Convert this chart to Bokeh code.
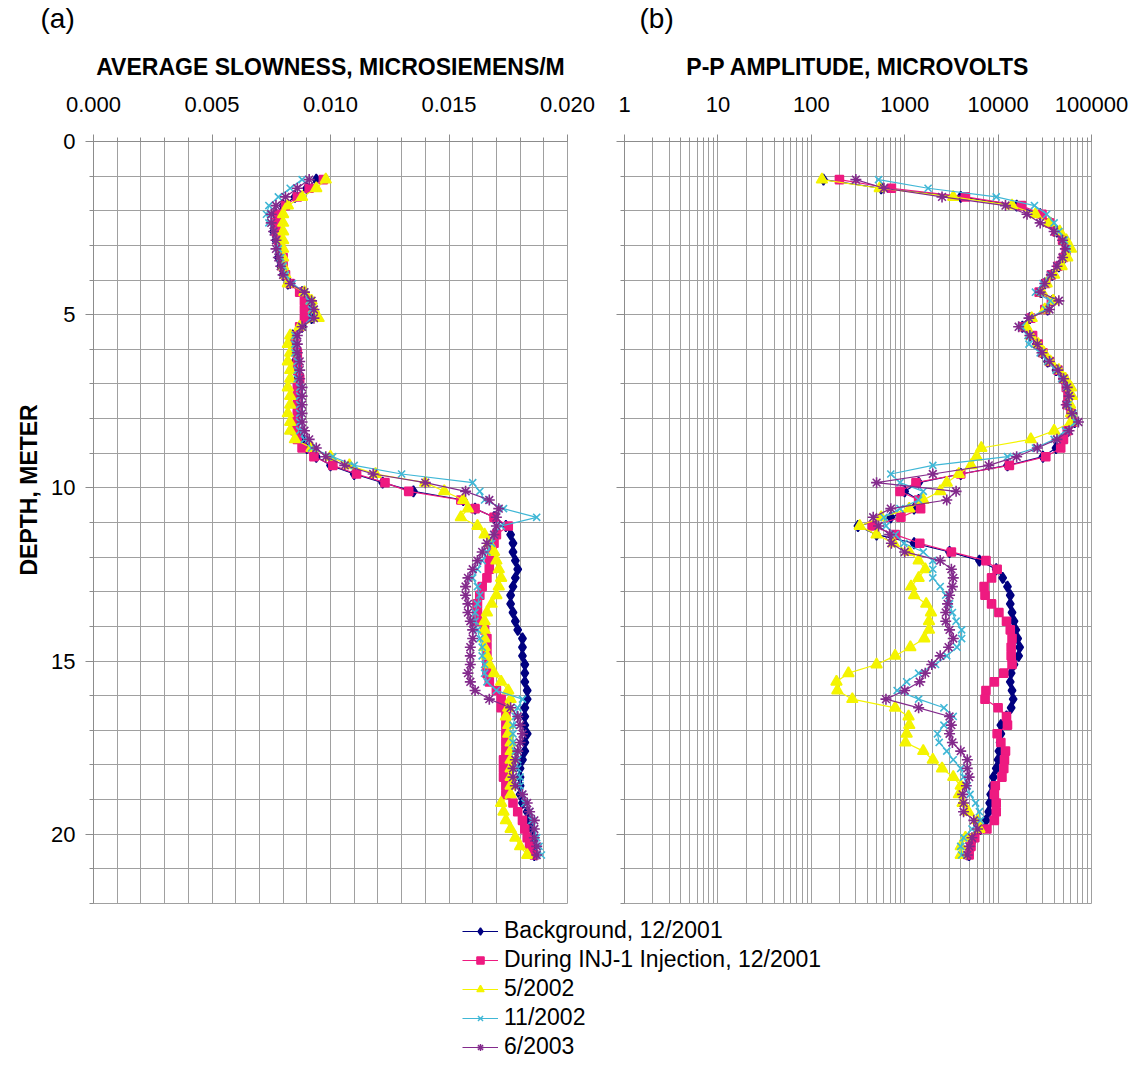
from bokeh.plotting import figure
from bokeh.models import (Range1d, FixedTicker, NumeralTickFormatter, CustomJSTickFormatter,
                          Legend, LegendItem, Label, Title)
from bokeh.layouts import column, row
from bokeh.embed import file_html
from bokeh.resources import INLINE

FONT = "Liberation Sans"
GRID = "#a0a0a0"
AXIS = "#8c8c8c"
TXT = "#000000"

# ---------------- data ----------------
depth = [
    1.10, 1.35, 1.60, 1.85, 2.10, 2.35, 2.60, 2.85, 3.10, 3.35,
    3.60, 3.85, 4.10, 4.35, 4.60, 4.85, 5.10, 5.35, 5.60, 5.85,
    6.10, 6.35, 6.60, 6.85, 7.10, 7.35, 7.60, 7.85, 8.10, 8.35,
    8.60, 8.85, 9.10, 9.35, 9.60, 9.85, 10.10, 10.35, 10.60, 10.85,
    11.10, 11.35, 11.60, 11.85, 12.10, 12.35, 12.60, 12.85, 13.10, 13.35,
    13.60, 13.85, 14.10, 14.35, 14.60, 14.85, 15.10, 15.35, 15.60, 15.85,
    16.10, 16.35, 16.60, 16.85, 17.10, 17.35, 17.60, 17.85, 18.10, 18.35,
    18.60, 18.85, 19.10, 19.35, 19.60, 19.85, 20.10, 20.35, 20.60,
]

series_names = [
    "Background, 12/2001",
    "During INJ-1 Injection, 12/2001",
    "5/2002",
    "11/2002",
    "6/2003",
]

slow_background = [
    0.0094, 0.0090, 0.0085, 0.0080, 0.0077, 0.0076, 0.0076, 0.0077, 0.0078, 0.0078,
    0.0079, 0.0080, 0.0082, 0.0088, 0.0091, 0.0091, 0.0092, 0.0088, 0.0084, 0.0084,
    0.0085, 0.0085, 0.0086, 0.0086, 0.0086, 0.0087, 0.0086, 0.0086, 0.0086, 0.0086,
    0.0088, 0.0090, 0.0094, 0.0100, 0.0110, 0.0122, 0.0135, 0.0156, 0.0161, 0.0169,
    0.0174, 0.0176, 0.0177, 0.0177, 0.0178, 0.0179, 0.0178, 0.0177, 0.0176, 0.0176,
    0.0177, 0.0178, 0.0179, 0.0181, 0.0181, 0.0181, 0.0182, 0.0182, 0.0182, 0.0183,
    0.0183, 0.0182, 0.0182, 0.0182, 0.0183, 0.0182, 0.0182, 0.0181, 0.0180, 0.0180,
    0.0180, 0.0180, 0.0181, 0.0183, 0.0184, 0.0185, 0.0186, 0.0186, 0.0186,
]
slow_injection = [
    0.0097, 0.0091, 0.0086, 0.0081, 0.0078, 0.0077, 0.0077, 0.0078, 0.0079, 0.0080,
    0.0080, 0.0081, 0.0083, 0.0087, 0.0089, 0.0089, 0.0089, 0.0087, 0.0085, 0.0085,
    0.0086, 0.0086, 0.0086, 0.0087, 0.0086, 0.0086, 0.0086, 0.0086, 0.0085, 0.0085,
    0.0086, 0.0088, 0.0093, 0.0101, 0.0111, 0.0123, 0.0133, 0.0155, 0.0161, 0.0169,
    0.0175, 0.0170, 0.0169, 0.0168, 0.0167, 0.0167, 0.0166, 0.0164, 0.0163, 0.0162,
    0.0162, 0.0162, 0.0165, 0.0166, 0.0166, 0.0166, 0.0166, 0.0166, 0.0167, 0.0170,
    0.0172, 0.0172, 0.0174, 0.0174, 0.0174, 0.0174, 0.0174, 0.0173, 0.0173, 0.0173,
    0.0174, 0.0174, 0.0177, 0.0179, 0.0181, 0.0182, 0.0183, 0.0184, 0.0186,
]
slow_2002_05 = [
    0.0098, 0.0094, 0.0088, 0.0082, 0.0080, 0.0080, 0.0080, 0.0080, 0.0080, 0.0080,
    0.0080, 0.0081, 0.0082, 0.0089, 0.0092, 0.0093, 0.0095, 0.0087, 0.0083, 0.0082,
    0.0083, 0.0082, 0.0083, 0.0083, 0.0082, 0.0083, 0.0083, 0.0082, 0.0083, 0.0083,
    0.0085, 0.0092, 0.0100, 0.0108, 0.0119, 0.0140, 0.0148, 0.0156, 0.0158, 0.0155,
    0.0162, 0.0165, 0.0167, 0.0169, 0.0170, 0.0171, 0.0172, 0.0171, 0.0170, 0.0168,
    0.0166, 0.0165, 0.0165, 0.0165, 0.0165, 0.0166, 0.0167, 0.0169, 0.0172, 0.0175,
    0.0176, 0.0175, 0.0174, 0.0175, 0.0175, 0.0176, 0.0176, 0.0176, 0.0176, 0.0176,
    0.0176, 0.0176, 0.0172, 0.0173, 0.0174, 0.0176, 0.0178, 0.0180, 0.0183,
]
slow_2002_11 = [
    0.0088, 0.0083, 0.0078, 0.0074, 0.0073, 0.0074, 0.0076, 0.0077, 0.0078, 0.0079,
    0.0080, 0.0081, 0.0084, 0.0089, 0.0091, 0.0092, 0.0092, 0.0088, 0.0085, 0.0085,
    0.0085, 0.0086, 0.0086, 0.0086, 0.0087, 0.0087, 0.0087, 0.0087, 0.0087, 0.0087,
    0.0089, 0.0092, 0.0101, 0.0110, 0.0130, 0.0160, 0.0163, 0.0165, 0.0173, 0.0187,
    0.0172, 0.0169, 0.0168, 0.0166, 0.0164, 0.0162, 0.0160, 0.0162, 0.0163, 0.0162,
    0.0161, 0.0161, 0.0162, 0.0163, 0.0164, 0.0164, 0.0165, 0.0165, 0.0166, 0.0170,
    0.0181, 0.0179, 0.0178, 0.0177, 0.0177, 0.0177, 0.0178, 0.0179, 0.0179, 0.0180,
    0.0180, 0.0181, 0.0182, 0.0184, 0.0185, 0.0186, 0.0187, 0.0188, 0.0189,
]
slow_2003_06 = [
    0.0091, 0.0086, 0.0081, 0.0077, 0.0075, 0.0075, 0.0076, 0.0077, 0.0077, 0.0078,
    0.0079, 0.0080, 0.0083, 0.0089, 0.0092, 0.0093, 0.0093, 0.0088, 0.0086, 0.0086,
    0.0086, 0.0087, 0.0087, 0.0087, 0.0088, 0.0088, 0.0088, 0.0088, 0.0088, 0.0089,
    0.0091, 0.0094, 0.0098, 0.0106, 0.0118, 0.0140, 0.0157, 0.0167, 0.0171, 0.0170,
    0.0170, 0.0169, 0.0166, 0.0164, 0.0162, 0.0160, 0.0158, 0.0157, 0.0157, 0.0158,
    0.0158, 0.0159, 0.0160, 0.0160, 0.0159, 0.0159, 0.0159, 0.0158, 0.0159, 0.0161,
    0.0167, 0.0176, 0.0179, 0.0180, 0.0181, 0.0180, 0.0179, 0.0178, 0.0177, 0.0177,
    0.0178, 0.0181, 0.0183, 0.0184, 0.0186, 0.0186, 0.0186, 0.0187, 0.0187,
]

amp_background = [
    135, 560, 3980, 15800, 28200, 36300, 42700, 50100, 55000, 51300,
    44700, 38000, 31600, 28800, 38000, 33900, 21900, 18200, 21900, 25700,
    29500, 33900, 41700, 49000, 55000, 58900, 56200, 63100, 66100, 56200,
    47900, 41700, 30200, 12600, 3980, 1410, 1000, 1410, 1260, 710,
    316, 500, 1260, 3020, 6310, 9550, 11200, 12600, 13500, 13500,
    14100, 14800, 15500, 16200, 17000, 16600, 14800, 13800, 13500, 14100,
    14500, 13800, 12300, 10700, 10700, 10500, 10200, 10000, 9550, 8910,
    8710, 8320, 8130, 7940, 7410, 6460, 5620, 5130, 4900,
]
amp_injection = [
    200, 720, 4470, 17800, 29500, 35500, 41700, 49000, 53700, 50100,
    43700, 37200, 32400, 27500, 37200, 31600, 22400, 18600, 23400, 26900,
    30200, 35500, 43700, 50100, 53700, 56200, 55000, 60300, 63100, 55000,
    50100, 46800, 32400, 13200, 3980, 1320, 890, 1410, 1480, 910,
    450, 790, 1450, 3160, 7410, 9770, 8510, 7080, 7240, 8510,
    10200, 12300, 13500, 14100, 13800, 13800, 14100, 11500, 9120, 7410,
    7240, 10000, 12300, 12600, 9770, 10700, 12000, 11700, 11500, 11000,
    9330, 9120, 9550, 9550, 9120, 7590, 5620, 5130, 4900,
]
amp_2002_05 = [
    130, 540, 3310, 14100, 25100, 35500, 45700, 53700, 60300, 55000,
    47900, 39800, 33100, 29500, 38900, 31600, 22900, 20000, 22400, 26900,
    30900, 36300, 44700, 52500, 60300, 61700, 58900, 60300, 60300, 39800,
    22400, 6610, 5890, 5130, 3800, 2820, 2400, 1580, 1120, 560,
    330, 500, 760, 1120, 1410, 1660, 1410, 1170, 1260, 1700,
    1910, 1820, 1820, 1620, 1150, 790, 500, 250, 186, 190,
    275, 790, 1100, 1120, 1050, 1020, 1580, 2000, 2510, 3310,
    3980, 3800, 4170, 4790, 6030, 6310, 4470, 3980, 3980,
]
amp_2002_11 = [
    525, 1780, 9550, 24500, 33100, 39800, 44700, 51300, 55000, 49000,
    42700, 36300, 30200, 25100, 36300, 32400, 21400, 17800, 20900, 21400,
    28200, 33900, 41700, 47900, 53700, 57500, 56200, 63100, 67600, 52500,
    39800, 25100, 12600, 2000, 710, 890, 1580, 1410, 890, 600,
    630, 790, 980, 1580, 2000, 2000, 2000, 2400, 2750, 3020,
    3240, 3550, 4070, 4070, 3630, 2820, 2140, 1410, 1050, 830,
    1410, 2630, 3310, 2630, 2240, 2340, 2820, 3310, 3980, 4270,
    4680, 5010, 5750, 6310, 6460, 5250, 4270, 3980, 4070,
]
amp_2003_06 = [
    300, 600, 2510, 12000, 20400, 28200, 39800, 49000, 52500, 49000,
    42700, 37200, 31600, 28200, 44700, 35500, 21400, 16600, 21900, 26300,
    29500, 35500, 43700, 50100, 55000, 57500, 53700, 61700, 72400, 57500,
    42700, 26300, 15800, 7940, 2000, 500, 3550, 2820, 710, 460,
    525, 690, 720, 1000, 2400, 3160, 3310, 3240, 3020, 2880,
    2750, 2750, 3020, 3310, 2950, 2400, 1950, 1660, 1450, 1000,
    630, 1410, 3020, 3160, 3020, 3240, 3980, 4680, 4680, 4900,
    4570, 4170, 4270, 4270, 5500, 6030, 5250, 4900, 4680,
]

slow_ticks = [0.000, 0.005, 0.010, 0.015, 0.020]
slow_minor = [i / 1000 for i in range(21)]
amp_ticks = [1, 10, 100, 1000, 10000, 100000]
amp_minor = [m * 10 ** e for e in range(5) for m in range(1, 10)] + [100000]
depth_ticks = [0, 5, 10, 15, 20]
depth_minor = list(range(0, 23))

slowness = [slow_background, slow_injection, slow_2002_05, slow_2002_11, slow_2003_06]
amplitude = [amp_background, amp_injection, amp_2002_05, amp_2002_11, amp_2003_06]

colors = ["#000080", "#ee1a80", "#f4f400", "#3fb7d6", "#832a8c"]
markers = ["diamond", "square", "triangle", "x", "asterisk"]
msizes = [11, 8, 11, 10, 11]
legend_msizes = [9, 7, 9, 8, 9]

# ---------------- layout sizes ----------------
W = 1135
STRIP_H = 40
TOP_H = 870
LEG_H = 1070 - STRIP_H - TOP_H
W_A = 597

# strip with the panel letters
ps = figure(width=W, height=STRIP_H, x_range=Range1d(0, W), y_range=Range1d(0, STRIP_H),
            output_backend="svg", toolbar_location=None, min_border=0)
ps.axis.visible = False
ps.grid.visible = False
ps.outline_line_color = None
for txt, xpos in (("(a)", 40), ("(b)", 639)):
    ps.add_layout(Label(x=xpos, y=STRIP_H - 18, text=txt, text_font=FONT, text_color=TXT,
                        text_font_size="28px", text_align="left", text_baseline="middle"))


def base_style(p, xlabel):
    p.background_fill_color = "white"
    p.border_fill_color = "white"
    p.outline_line_color = GRID
    xa = p.xaxis[0]
    xa.axis_label = xlabel
    xa.axis_label_text_font = FONT
    xa.axis_label_text_color = TXT
    xa.axis_label_text_font_size = "23px"
    xa.axis_label_text_font_style = "bold"
    xa.axis_label_standoff = 14
    xa.major_label_text_font = FONT
    xa.major_label_text_color = TXT
    xa.major_label_text_font_size = "22px"
    xa.major_label_standoff = 23
    xa.axis_line_color = AXIS
    xa.major_tick_line_color = AXIS
    xa.minor_tick_line_color = AXIS
    xa.major_tick_out = 7
    xa.major_tick_in = 0
    xa.minor_tick_out = 4
    xa.minor_tick_in = 0
    ya = p.yaxis[0]
    ya.ticker = FixedTicker(ticks=depth_ticks, minor_ticks=depth_minor)
    ya.major_label_text_font = FONT
    ya.major_label_text_color = TXT
    ya.major_label_text_font_size = "22px"
    ya.axis_line_color = AXIS
    ya.major_tick_line_color = AXIS
    ya.minor_tick_line_color = AXIS
    ya.major_tick_out = 8
    ya.major_tick_in = 0
    ya.minor_tick_out = 4
    ya.minor_tick_in = 0
    p.ygrid.ticker = FixedTicker(ticks=depth_minor)
    for g in (p.xgrid[0], p.ygrid[0]):
        g.grid_line_color = GRID
        g.grid_line_width = 1


pa = figure(width=W_A, height=TOP_H, x_range=Range1d(0, 0.020), y_range=Range1d(22, 0),
            x_axis_location="above", output_backend="svg", toolbar_location=None,
            min_border_left=93, min_border_right=30, min_border_top=101, min_border_bottom=7)
base_style(pa, "AVERAGE SLOWNESS, MICROSIEMENS/M")
pa.xaxis[0].ticker = FixedTicker(ticks=slow_ticks, minor_ticks=slow_minor)
pa.xaxis[0].formatter = NumeralTickFormatter(format="0.000")
pa.xgrid.ticker = FixedTicker(ticks=slow_minor)
pa.yaxis[0].major_label_standoff = 10
pa.add_layout(Title(text="DEPTH, METER", text_font=FONT, text_color=TXT,
                    text_font_size="23px", text_font_style="bold", align="left",
                    vertical_align="top", offset=328, standoff=10), "left")

pb = figure(width=W - W_A, height=TOP_H, x_axis_type="log", x_range=Range1d(1, 100000),
            y_range=Range1d(22, 0), x_axis_location="above", output_backend="svg",
            toolbar_location=None,
            min_border_left=27, min_border_right=44, min_border_top=101, min_border_bottom=7)
base_style(pb, "P-P AMPLITUDE, MICROVOLTS")
pb.xaxis[0].ticker = FixedTicker(ticks=amp_ticks, minor_ticks=amp_minor)
pb.xaxis[0].formatter = NumeralTickFormatter(format="0")
pb.xgrid.ticker = FixedTicker(ticks=amp_minor)
pb.yaxis[0].formatter = CustomJSTickFormatter(code="return ''")
pb.yaxis[0].major_label_standoff = 0

for vals_a, vals_b, c, m, s in zip(slowness, amplitude, colors, markers, msizes):
    for p, vals in ((pa, vals_a), (pb, vals_b)):
        p.line(x=vals, y=depth, line_color=c, line_width=1.2)
        p.scatter(x=vals, y=depth, marker=m, size=s, line_color=c, fill_color=c, line_width=1.6)

# ---------------- legend ----------------
pl = figure(width=W, height=LEG_H, x_range=Range1d(0, 1), y_range=Range1d(0, 1),
            output_backend="svg", toolbar_location=None, min_border=0)
pl.axis.visible = False
pl.grid.visible = False
pl.outline_line_color = None
items = []
for name, c, m, s in zip(series_names, colors, markers, legend_msizes):
    # proxy renderers outside the visible range, used only for the legend swatches
    r1 = pl.line(x=[-5, -4], y=[-5, -5], line_color=c, line_width=1.2)
    r2 = pl.scatter(x=[-5], y=[-5], marker=m, size=s, line_color=c, fill_color=c, line_width=1.4)
    items.append(LegendItem(label=name, renderers=[r1, r2]))
leg = Legend(items=items, location=(462, 9), orientation="vertical", padding=0, margin=0,
             spacing=0, label_height=29, glyph_height=18, glyph_width=36, label_standoff=6,
             label_text_font=FONT, label_text_color=TXT, label_text_font_size="23px",
             border_line_color=None, background_fill_alpha=0)
pl.add_layout(leg)

layout = column(ps, row(pa, pb), pl)
open("out.html", "w").write(file_html(layout, INLINE))
